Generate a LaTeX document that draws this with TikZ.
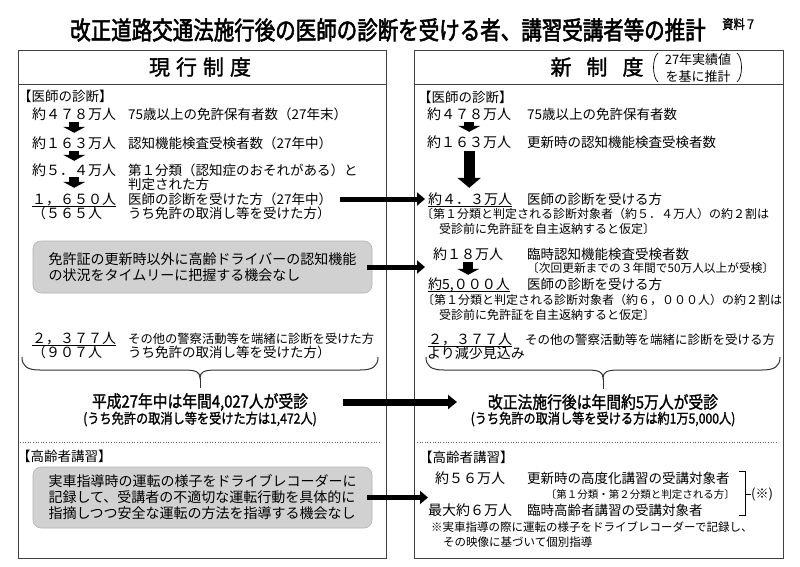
\documentclass[tikz,border=0pt]{standalone}
\usepackage{fontspec}
\usetikzlibrary{arrows.meta,calc}
\newfontfamily\jp{Noto Sans CJK JP}
\newfontfamily\jpb{Noto Sans CJK JP}[FakeBold=1.6]
\newfontfamily\jpt{Noto Sans CJK JP}[FakeBold=2.2, FakeStretch=0.82]
\newfontfamily\jpc{Noto Sans CJK JP}[FakeBold=1.4, FakeStretch=0.87]
\newcommand\fsz[1]{\fontsize{#1}{#1}\selectfont}
\tikzset{
  every node/.style={inner sep=0pt},
  lt/.style={anchor=west, font=\jp\fsz{13.5}, text height=11.9pt, text depth=1.6pt},
  num/.style={anchor=west, font=\jp\fsz{14}, text height=12.3pt, text depth=1.7pt},
  note/.style={anchor=west, font=\jp\fsz{12}, text height=10.6pt, text depth=1.4pt},
  sec/.style={anchor=west, font=\jp\fsz{13.5}, text height=11.9pt, text depth=1.6pt},
  panel/.style={draw=black!75, line width=0.8pt},
  graybox/.style={draw=black!30, fill=black!18, rounded corners=8pt, line width=0.6pt, align=left, font=\jp\fontsize{14}{16}\selectfont},
  harr/.style={line width=5pt, -{Triangle[length=8pt,width=13pt]}},
  barr/.style={line width=7pt, -{Triangle[length=9pt,width=14pt]}},
  darr/.style={line width=10pt, -{Triangle[length=6pt,width=22pt]}},
  bdarr/.style={line width=11pt, -{Triangle[length=10pt,width=23pt]}},
  uline/.style={line width=0.7pt},
  bracestyle/.style={line width=1pt, draw=black!80},
  dotline/.style={dotted, draw=black!60, line width=0.6pt},
}
\begin{document}
\begin{tikzpicture}[x=1pt, y=-1pt]
\useasboundingbox (0,0) rectangle (800,566);
\fill[white] (0,0) rectangle (800,566);

% title
\node[font=\jpt\fsz{25}] (title) at (388,30) {改正道路交通法施行後の医師の診断を受ける者、講習受講者等の推計};
\node[font=\jpc\fsz{13}, anchor=west] (shiryo) at (722,24) {資料７};

% panels
\node[panel, minimum width=368pt, minimum height=508pt, anchor=north west] (lp) at (18,50) {};
\node[panel, minimum width=369pt, minimum height=508pt, anchor=north west] (rp) at (414,50) {};
\draw[panel] ($(lp.north west)+(0,34)$) -- ($(lp.north east)+(0,34)$);
\draw[panel] ($(rp.north west)+(0,34)$) -- ($(rp.north east)+(0,34)$);

% headers
\node[font=\jpb\fsz{21}] (h1) at (200,67) {現\hspace{6pt}行\hspace{6pt}制\hspace{6pt}度};
\node[font=\jpb\fsz{21}] (h2) at (597,67) {新\hspace{15pt}制\hspace{15pt}度};
\node[font=\jp\fontsize{13}{17}\selectfont, align=center] (h2n) at (698,68) {27年実績値\\を基に推計};
\draw[line width=0.7pt] (658,53) .. controls (652,58) and (652,77) .. (658,82);
\draw[line width=0.7pt] (737,53) .. controls (743,58) and (743,77) .. (737,82);

% ---------- left: doctor diagnosis ----------
\node[sec] (lsec1) at (18,96) {【医師の診断】};
\node[num] (l478) at (32,114) {約４７８万人};
\node[lt] (l478d) at (128,114) {75歳以上の免許保有者数（27年末）};
\node[num] (l163) at (32,143) {約１６３万人};
\node[lt] (l163d) at (128,143) {認知機能検査受検者数（27年中）};
\node[num] (l54) at (32,170) {約５．４万人};
\node[lt] (l54d) at (128,170) {第１分類（認知症のおそれがある）と};
\node[lt] (l54e) at (128,184) {判定された方};
\node[num] (l1650) at (32,199) {１，６５０人};
\node[lt] (l1650d) at (128,199) {医師の診断を受けた方（27年中）};
\node[num] (l565) at (32,213) {（５６５人};
\node[lt] (l565d) at (128,213) {うち免許の取消し等を受けた方）};
\draw[uline] (l1650.south west) -- (l1650.south east);

\draw[darr, shorten <=1pt, shorten >=3pt] (l478.south) -- (l478.south |- l163.north);
\draw[darr, shorten <=1pt, shorten >=2pt] (l163.south) -- (l163.south |- l54.north);
\draw[darr, shorten >=4pt] (l54.south) -- (l54.south |- l1650.north);

\node[graybox, minimum width=339pt, minimum height=52pt] (gb1) at (202.5,267)
  {免許証の更新時以外に高齢ドライバーの認知機能\\の状況をタイムリーに把握する機会なし};

\node[num] (l2377) at (32,338) {２，３７７人};
\node[lt, font=\jp\fsz{12.3}] (l2377d) at (128,338) {その他の警察活動等を端緒に診断を受けた方};
\node[num] (l907) at (32,352) {（９０７人};
\node[lt] (l907d) at (128,352) {うち免許の取消し等を受けた方）};
\draw[uline] (l2377.south west) -- (l2377.south east);

% ---------- right: doctor diagnosis ----------
\node[sec] (rsec1) at (418,97) {【医師の診断】};
\node[num] (r478) at (427,114) {約４７８万人};
\node[lt] (r478d) at (527,114) {75歳以上の免許保有者数};
\node[num] (r163) at (427,142) {約１６３万人};
\node[lt] (r163d) at (527,142) {更新時の認知機能検査受検者数};
\node[num] (r43) at (428,199) {約４．３万人};
\node[lt] (r43d) at (527,199) {医師の診断を受ける方};
\node[note] (r43n1) at (421,214) {〔第１分類と判定される診断対象者（約５．４万人）の約２割は};
\node[note] (r43n2) at (439,229) {受診前に免許証を自主返納すると仮定〕};
\draw[uline] (r43.south west) -- (r43.south east);

\draw[darr, shorten <=1pt, shorten >=3pt] (r478.south) -- (r478.south |- r163.north);
\draw[bdarr, shorten <=2pt, shorten >=4pt] (r163.south) -- (r163.south |- r43.north);

\node[num] (r18) at (433,254) {約１８万人};
\node[lt] (r18d) at (527,254) {臨時認知機能検査受検者数};
\node[note, font=\jp\fsz{11.7}] (r18n) at (527,268) {〔次回更新までの３年間で50万人以上が受検〕};
\node[num] (r5000) at (428,284) {約5,０００人};
\node[lt] (r5000d) at (527,284) {医師の診断を受ける方};
\node[note] (r5000n1) at (422,300) {〔第１分類と判定される診断対象者（約６，０００人）の約２割は};
\node[note] (r5000n2) at (439,315) {受診前に免許証を自主返納すると仮定〕};
\draw[uline] (r5000.south west) -- (r5000.south east);
\draw[darr, shorten <=1pt, shorten >=2pt] (r18.south) -- (r18.south |- r5000.north);

\node[num] (r2377) at (428,339) {２，３７７人};
\node[lt, font=\jp\fsz{12.5}] (r2377d) at (525,339) {その他の警察活動等を端緒に診断を受ける方};
\node[num] (rgen) at (427,353) {より減少見込み};
\draw[uline] (r2377.south west) -- (r2377.south east);

% horizontal arrows
\draw[harr] ([xshift=8pt]l1650d.east) -- ([xshift=-3pt]r43.west);
\draw[harr] ([xshift=-5pt]gb1.east) -- ([xshift=11pt]gb1.east -| rp.west);

% braces
\draw[bracestyle] (22,357) .. controls (22,366) and (27,370) .. (40,370) -- (184,370)
  .. controls (196,370) and (200,372) .. (200,378)
  .. controls (200,372) and (204,370) .. (216,370) -- (360,370)
  .. controls (373,370) and (378,366) .. (378,357);
\draw[bracestyle] (426,357) .. controls (426,366) and (431,370) .. (444,370) -- (587,370)
  .. controls (599,370) and (603,372) .. (603,378)
  .. controls (603,372) and (607,370) .. (619,370) -- (762,370)
  .. controls (775,370) and (780,366) .. (780,357);

% summary
\node[font=\jpc\fsz{17}] (s1) at (200,402) {平成27年中は年間4,027人が受診};
\node[font=\jpc\fsz{14}] (s1b) at (200,419) {(うち免許の取消し等を受けた方は1,472人)};
\node[font=\jpc\fsz{17}] (s2) at (603,402) {改正法施行後は年間約5万人が受診};
\node[font=\jpc\fsz{14}] (s2b) at (603,419) {(うち免許の取消し等を受ける方は約1万5,000人)};
\draw[bracestyle] (200,378) -- ([yshift=5pt]s1.north);
\draw[bracestyle] (603,378) -- ([yshift=5pt]s2.north);
\coordinate (ba1) at (343,402);
\coordinate (ba2) at (457,402);
\draw[barr] (ba1) -- (ba2);

% ---------- elderly course ----------
\draw[dotline] (20,442) -- (381,442);
\draw[dotline] (417,442) -- (778,442);
\node[sec] (lsec2) at (17,456) {【高齢者講習】};
\node[sec] (rsec2) at (419,457) {【高齢者講習】};

\node[graybox, minimum width=339pt, minimum height=61pt] (gb2) at (202.5,497.5)
  {実車指導時の運転の様子をドライブレコーダーに\\記録して、受講者の不適切な運転行動を具体的に\\指摘しつつ安全な運転の方法を指導する機会なし};
\draw[harr] ([xshift=-5pt]gb2.east) -- ([xshift=14pt]gb2.east -| rp.west);

\node[num] (r56) at (435,478) {約５６万人};
\node[lt] (r56d) at (527,478) {更新時の高度化講習の受講対象者};
\node[note, font=\jp\fsz{10.5}, anchor=east] (r56n) at (735,494) {〔第１分類・第２分類と判定される方〕};
\node[num] (r6) at (428,510) {最大約６万人};
\node[lt] (r6d) at (527,510) {臨時高齢者講習の受講対象者};
\draw[line width=0.7pt] (739,471) -- (745,471) -- (745,515) -- (739,515);
\node[font=\jp\fsz{13}, anchor=west] (kome) at (751,494) {(※)};
\draw[line width=0.7pt] (745,494) -- (kome.west);
\node[note, font=\jp\fsz{11.5}] (fn1) at (431,527) {※実車指導の際に運転の様子をドライブレコーダーで記録し、};
\node[note, font=\jp\fsz{11.5}] (fn2) at (443,542) {その映像に基づいて個別指導};
\end{tikzpicture}
\end{document}
